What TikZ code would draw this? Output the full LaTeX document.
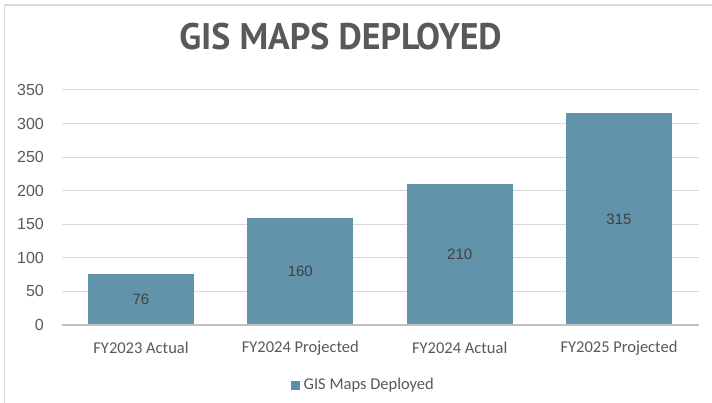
\documentclass[tikz,border=0pt]{standalone}
\usepackage{fontspec}
\setmainfont{Liberation Sans}
\newfontfamily\catfont{Carlito}
\newfontfamily\titlefont{PT Sans}
\usepackage{tikz}
\usetikzlibrary{positioning}

\definecolor{barblue}{RGB}{89,143,166}
\definecolor{txtgray}{RGB}{89,89,89}
\definecolor{valgray}{RGB}{64,64,64}
\definecolor{gridgray}{RGB}{217,217,217}
\definecolor{axisgray}{RGB}{191,191,191}

\tikzset{
  ticklabel/.style={anchor=east, inner sep=0pt, text=txtgray, font=\fontsize{16}{16}\selectfont},
  vallabel/.style={inner sep=0pt, text=valgray, font=\fontsize{15}{15}\selectfont},
  catlabel/.style={inner sep=0pt, text=txtgray, font=\catfont\fontsize{16.5}{16.5}\selectfont},
  gridline/.style={draw=gridgray, line width=1pt},
  databar/.style={fill=barblue, fill opacity=0.95}
}

\begin{document}
\begin{tikzpicture}[x=1pt, y=1pt]

\useasboundingbox (0, 0) rectangle (712, 403);
\fill[white] (0, 0) rectangle (712, 403);
\draw[gridgray, line width=1.5pt] (4.5, -5) -- (4.5, 398) -- (720, 398);

% title
\node[text=txtgray, inner sep=0pt, xscale=0.97, font=\titlefont\bfseries\fontsize{37}{37}\selectfont] (title) at (340.5, 366) {GIS MAPS DEPLOYED};

% grid
\draw[gridline] (62, 111.6) -- (699, 111.6);
\draw[gridline] (62, 145.1) -- (699, 145.1);
\draw[gridline] (62, 178.7) -- (699, 178.7);
\draw[gridline] (62, 212.3) -- (699, 212.3);
\draw[gridline] (62, 245.9) -- (699, 245.9);
\draw[gridline] (62, 279.4) -- (699, 279.4);
\draw[gridline] (62, 313.0) -- (699, 313.0);

\node[ticklabel] (t0) at (44, 78.0) {0};
\node[ticklabel] (t50) at (44, 111.6) {50};
\node[ticklabel] (t100) at (44, 145.1) {100};
\node[ticklabel] (t150) at (44, 178.7) {150};
\node[ticklabel] (t200) at (44, 212.3) {200};
\node[ticklabel] (t250) at (44, 245.9) {250};
\node[ticklabel] (t300) at (44, 279.4) {300};
\node[ticklabel] (t350) at (44, 313.0) {350};

% bars
\fill[databar] (88, 78) rectangle (194, 129.0);
\fill[databar] (247.3, 78) rectangle (353.3, 185.4);
\fill[databar] (406.7, 78) rectangle (512.7, 219.0);
\fill[databar] (566, 78) rectangle (672, 289.5);

\draw[axisgray, line width=1.5pt] (62, 78) -- (699, 78);

\node[vallabel] (v1) at (141, 103.5) {76};
\node[vallabel] (v2) at (300.3, 131.7) {160};
\node[vallabel] (v3) at (459.7, 148.5) {210};
\node[vallabel] (v4) at (619, 183.8) {315};

% categories
\node[catlabel] (c1) at (141, 55) {FY2023 Actual};
\node[catlabel] (c2) at (300.3, 55) {FY2024 Projected};
\node[catlabel] (c3) at (459.7, 55) {FY2024 Actual};
\node[catlabel] (c4) at (619, 55) {FY2025 Projected};

% legend
\node[fill=barblue, minimum size=9.5pt, inner sep=0pt] (legkey) at (295.5, 17.5) {};
\node[catlabel, anchor=west, right=3pt of legkey] (legtext) {GIS Maps Deployed};

\end{tikzpicture}
\end{document}
